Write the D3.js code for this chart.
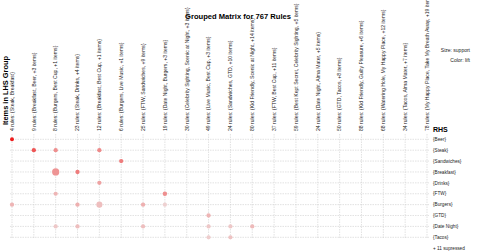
<!DOCTYPE html>
<html>
<head>
<meta charset="utf-8">
<script src="https://cdn.jsdelivr.net/npm/d3@7"></script>
<style>
  body { margin: 0; background: #fff; }
  text { font-family: "Liberation Sans", Arial, sans-serif; }
</style>
</head>
<body>
<svg id="chart" width="480" height="252"></svg>
<script>
// LHS groups (columns)
const lhsGroups = [
  "4 rules: {Steak, Breakfast}",
  "9 rules: {Breakfast, Beer, +3 items}",
  "8 rules: {Burgers, Best Cup, +1 items}",
  "23 rules: {Steak, Drinks, +4 items}",
  "12 rules: {Breakfast, Best Cup, +1 items}",
  "6 rules: {Burgers, Live Music, +1 items}",
  "25 rules: {FTW, Sandwiches, +9 items}",
  "19 rules: {Date Night, Burgers, +3 items}",
  "30 rules: {Celebrity Sighting, Scenic at Night, +3 items}",
  "49 rules: {Live Music, Best Cup, +3 items}",
  "24 rules: {Sandwiches, GTD, +10 items}",
  "80 rules: {Kid Friendly, Scenic at Night, +14 items}",
  "37 rules: {FTW, Best Cup, +11 items}",
  "59 rules: {Best Kept Secret, Celebrity Sighting, +5 items}",
  "24 rules: {Date Night, Alma Mater, +5 items}",
  "50 rules: {GTD, Tacos, +8 items}",
  "88 rules: {Kid Friendly, Guilty Pleasure, +6 items}",
  "68 rules: {Watering Hole, My Happy Place, +12 items}",
  "34 rules: {Tacos, Alma Mater, +7 items}",
  "78 rules: {My Happy Place, Take My Breath Away, +19 items}"
];

// RHS items (rows)
const rhsItems = ["{Beer}", "{Steak}", "{Sandwiches}", "{Breakfast}", "{Drinks}",
  "{FTW}", "{Burgers}", "{GTD}", "{Date Night}", "{Tacos}"];

// [rhs row, lhs column, support, lift]
const cells = [
  [0, 0, 0.015, 5.4],
  [1, 1, 0.018, 4.2], [1, 2, 0.018, 3.0], [1, 4, 0.018, 3.1],
  [2, 5, 0.018, 3.4],
  [3, 2, 0.050, 2.9], [3, 3, 0.018, 3.4],
  [4, 4, 0.018, 2.6],
  [5, 2, 0.017, 2.2], [5, 7, 0.019, 3.0],
  [6, 0, 0.018, 2.2], [6, 3, 0.018, 2.3], [6, 4, 0.035, 2.0], [6, 6, 0.018, 2.3], [6, 7, 0.017, 1.6],
  [7, 9, 0.018, 2.2],
  [8, 2, 0.017, 1.8], [8, 3, 0.018, 2.0], [8, 6, 0.017, 2.0], [8, 9, 0.017, 1.8], [8, 10, 0.017, 1.8], [8, 11, 0.018, 2.1],
  [9, 9, 0.017, 1.7], [9, 10, 0.017, 1.9]
];

const title = "Grouped Matrix for 767 Rules";
const suppressed = "+ 11 supressed";

const svg = d3.select("#chart");

const x = d3.scalePoint().domain(d3.range(lhsGroups.length)).range([12, 427]);
const y = d3.scalePoint().domain(d3.range(rhsItems.length)).range([139.3, 237.3]);
const r = d3.scaleSqrt().domain([0, 0.05]).range([0, 3.6]);
const color = d3.scaleLinear().domain([1, 6]).range(["#EEEEEE", "#EE0000"]).interpolate(d3.interpolateRgb);

// grid
const grid = svg.append("g")
  .attr("stroke", "#cfcfcf")
  .attr("stroke-width", 0.6)
  .attr("stroke-dasharray", "1.5,1");
grid.selectAll("line.v").data(x.domain()).join("line")
  .attr("class", "v")
  .attr("x1", d => x(d)).attr("x2", d => x(d))
  .attr("y1", 134).attr("y2", 239);
grid.selectAll("line.h").data(y.domain()).join("line")
  .attr("class", "h")
  .attr("x1", 10).attr("x2", 429)
  .attr("y1", d => y(d)).attr("y2", d => y(d));

// dots
svg.append("g").selectAll("circle").data(cells).join("circle")
  .attr("cx", d => x(d[1]))
  .attr("cy", d => y(d[0]))
  .attr("r", d => r(d[2]))
  .attr("fill", d => color(d[3]));

// column labels
svg.append("g").selectAll("text").data(lhsGroups).join("text")
  .attr("transform", (d, i) => `translate(${x(i)},131) rotate(-90)`)
  .attr("dy", "0.35em")
  .attr("font-size", 5.1)
  .attr("fill", "#222")
  .text(d => d);

// row labels
svg.append("g").selectAll("text").data(rhsItems).join("text")
  .attr("x", 433)
  .attr("y", (d, i) => y(i))
  .attr("dy", "0.35em")
  .attr("font-size", 4.7)
  .attr("fill", "#222")
  .text(d => d);

svg.append("text").attr("x", 433).attr("y", 132)
  .attr("font-size", 7).attr("font-weight", "bold").text("RHS");
svg.append("text").attr("x", 433).attr("y", 250)
  .attr("font-size", 4.7).attr("fill", "#222").text(suppressed);

svg.append("text")
  .attr("transform", "translate(8,125) rotate(-90)")
  .attr("font-size", 7.4).attr("font-weight", "bold").text("Items in LHS Group");

svg.append("text").attr("x", 238).attr("y", 19)
  .attr("text-anchor", "middle")
  .attr("font-size", 7.6).attr("font-weight", "bold").text(title);

svg.append("text").attr("x", 470).attr("y", 52)
  .attr("text-anchor", "end").attr("font-size", 5).attr("fill", "#222").text("Size: support");
svg.append("text").attr("x", 470).attr("y", 62)
  .attr("text-anchor", "end").attr("font-size", 5).attr("fill", "#222").text("Color: lift");
</script>
</body>
</html>
